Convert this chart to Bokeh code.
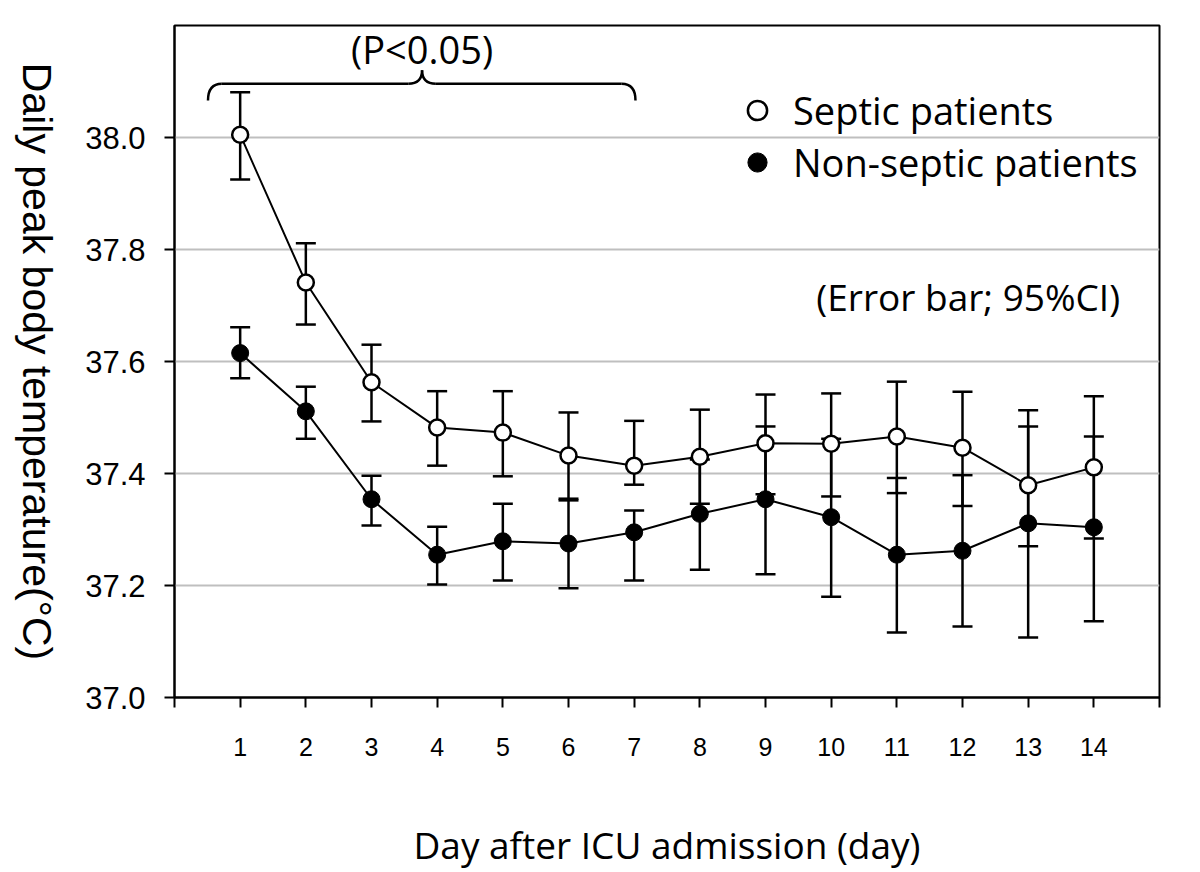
import math
from bokeh.plotting import figure
from bokeh.layouts import row
from bokeh.core.properties import value
from bokeh.models import (Label, FixedTicker, Whisker, TeeHead, ColumnDataSource,
                          Range1d, PrintfTickFormatter, Legend, LegendItem)
from bokeh.embed import file_html
from bokeh.resources import INLINE

# ---------------- data ----------------
days = list(range(1, 15))
x_tick_labels = {0: "", 15: ""}
y_ticks = [37.0, 37.2, 37.4, 37.6, 37.8, 38.0]

septic_mean = [38.005, 37.741, 37.563, 37.482, 37.473, 37.432, 37.414,
               37.430, 37.454, 37.453, 37.466, 37.446, 37.379, 37.411]
septic_upper = [38.081, 37.811, 37.630, 37.547, 37.547, 37.509, 37.494,
                37.514, 37.541, 37.543, 37.564, 37.546, 37.513, 37.538]
septic_lower = [37.925, 37.666, 37.493, 37.414, 37.395, 37.352, 37.380,
                37.346, 37.363, 37.359, 37.365, 37.342, 37.270, 37.284]

non_mean = [37.615, 37.511, 37.354, 37.255, 37.279, 37.275, 37.295,
            37.328, 37.354, 37.322, 37.255, 37.262, 37.311, 37.304]
non_upper = [37.661, 37.555, 37.396, 37.305, 37.346, 37.355, 37.334,
             37.425, 37.484, 37.462, 37.392, 37.397, 37.484, 37.466]
non_lower = [37.570, 37.462, 37.307, 37.202, 37.209, 37.195, 37.209,
             37.228, 37.220, 37.180, 37.116, 37.127, 37.107, 37.136]

series_names = ["Septic patients", "Non-septic patients"]
x_title = "Day after ICU admission (day)"
y_title = "Daily peak body temperature(°C)"

H = 872

# ---------------- main figure ----------------
p = figure(width=1124, height=H, x_range=Range1d(0, 15), y_range=Range1d(37.0, 38.2),
           output_backend="svg", toolbar_location=None,
           min_border_left=114, min_border_right=25, min_border_top=25, min_border_bottom=175)
p.background_fill_color = "white"
p.border_fill_color = "white"
p.outline_line_color = "black"
p.outline_line_width = 2
p.outline_line_alpha = 1

p.xgrid.visible = False
p.ygrid.ticker = FixedTicker(ticks=[37.2, 37.4, 37.6, 37.8, 38.0])
p.ygrid.grid_line_color = "#bfbfbf"
p.ygrid.grid_line_width = 2

for ax in (p.xaxis[0], p.yaxis[0]):
    ax.axis_line_color = "black"
    ax.axis_line_width = 2
    ax.major_tick_line_color = "black"
    ax.major_tick_line_width = 2
    ax.major_tick_in = 0
    ax.major_tick_out = 10
    ax.minor_tick_line_color = None
    ax.major_label_text_color = "black"
    ax.major_label_text_font = "Liberation Sans"
    ax.axis_label_text_color = "black"
    ax.axis_label_text_font_style = "normal"

p.xaxis.ticker = FixedTicker(ticks=list(range(0, 16)))
p.xaxis.major_label_overrides = x_tick_labels
p.xaxis.major_label_text_font_size = "25px"
p.xaxis.major_label_standoff = 30
p.xaxis.axis_label = x_title
p.xaxis.axis_label_text_font = "Open Sans"
p.xaxis.axis_label_text_font_size = "37px"
p.xaxis.axis_label_standoff = 60

p.yaxis.ticker = FixedTicker(ticks=y_ticks)
p.yaxis.formatter = PrintfTickFormatter(format="%.1f")
p.yaxis.major_label_text_font_size = "31px"
p.yaxis.major_label_standoff = 19

# ---------------- error bars ----------------
src_s = ColumnDataSource(dict(x=days, y=septic_mean, upper=septic_upper, lower=septic_lower))
src_n = ColumnDataSource(dict(x=days, y=non_mean, upper=non_upper, lower=non_lower))

for src in (src_n, src_s):
    w = Whisker(source=src, base="x", upper="upper", lower="lower", dimension="height",
                line_color="black", line_width=2.5, level="underlay",
                upper_head=TeeHead(size=20, line_width=2.5, line_color="black"),
                lower_head=TeeHead(size=20, line_width=2.5, line_color="black"))
    p.add_layout(w)

# ---------------- lines and markers ----------------
p.line("x", "y", source=src_n, line_color="black", line_width=2)
p.line("x", "y", source=src_s, line_color="black", line_width=2)
r_n = p.scatter("x", "y", source=src_n, marker="circle", size=17,
                fill_color="black", line_color="black", line_width=1)
r_s = p.scatter("x", "y", source=src_s, marker="circle", size=16,
                fill_color="white", line_color="black", line_width=2.5)

legend = Legend(items=[LegendItem(label=series_names[0], renderers=[r_s]),
                       LegendItem(label=series_names[1], renderers=[r_n])],
                location=(559, 509), orientation="vertical",
                border_line_color=None, background_fill_alpha=0,
                label_text_font="Open Sans", label_text_font_size="38px",
                label_text_color="black", label_standoff=12,
                glyph_width=48, glyph_height=52, spacing=0, padding=0, margin=0)
p.add_layout(legend)

# ---------------- brace and annotations ----------------
xL, xR, xc = 0.51, 7.02, 3.77
yb, ym, yt = 38.066, 38.096, 38.12
dx = 0.21
brace_kw = dict(line_color="black", line_width=2.5)
p.quadratic(x0=[xL, xc - dx, xc, xR - dx], y0=[yb, ym, yt, ym],
            x1=[xL + dx, xc, xc + dx, xR], y1=[ym, yt, ym, yb],
            cx=[xL, xc, xc, xR], cy=[ym, ym, ym, ym], **brace_kw)
p.segment(x0=[xL + dx, xc + dx], y0=[ym, ym], x1=[xc - dx, xR - dx], y1=[ym, ym], **brace_kw)

p.add_layout(Label(x=xc, y=38.158, text="(P<0.05)", text_align="center", text_baseline="middle",
                   text_font="Open Sans", text_font_size="38px", text_color="black"))
p.add_layout(Label(x=14.40, y=37.716, text="(Error bar; 95%CI)", text_align="right",
                   text_baseline="middle", text_font="Open Sans", text_font_size="37px",
                   text_color="black"))

# ---------------- left strip holding the rotated y-axis title ----------------
left = figure(width=60, height=H, x_range=Range1d(0, 60), y_range=Range1d(0, H),
              output_backend="svg", toolbar_location=None, min_border=0,
              x_axis_type=None, y_axis_type=None)
left.title.visible = False
left.outline_line_color = None
left.background_fill_color = "white"
left.border_fill_color = "white"
left.text(x=[36], y=[436], text=[y_title], angle=-math.pi / 2,
          text_align="center", text_baseline="middle",
          text_font=value("Liberation Sans"), text_font_size="41px", text_color="black")

layout = row(left, p, spacing=0)
open("out.html", "w").write(file_html(layout, INLINE))
